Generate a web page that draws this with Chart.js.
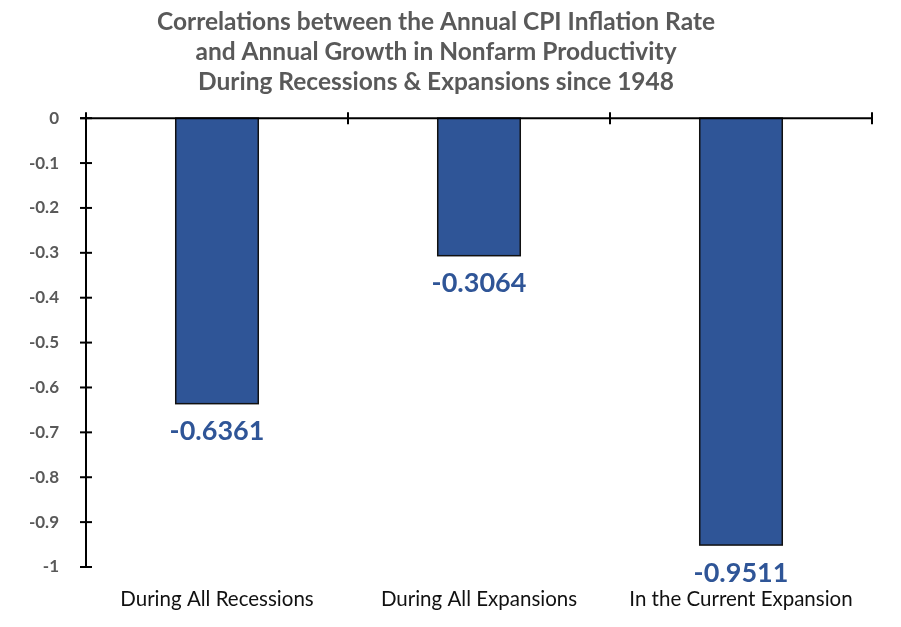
<!DOCTYPE html>
<html>
<head>
<meta charset="utf-8">
<script src="https://cdn.jsdelivr.net/npm/chart.js@4"></script>
<style>
html,body{margin:0;padding:0;background:#fff;}
#wrap{width:901px;height:627px;position:relative;}
</style>
</head>
<body>
<div id="wrap"><canvas id="c" width="901" height="627"></canvas></div>
<script>
const categories = ['During All Recessions', 'During All Expansions', 'In the Current Expansion'];
const correlations = [-0.6361, -0.3064, -0.9511];
const valueLabels = ['-0.6361', '-0.3064', '-0.9511'];
const titleLines = ['Correlations between the Annual CPI Inflation Rate', 'and Annual Growth in Nonfarm Productivity', 'During Recessions & Expansions since 1948'];
const yMin = -1, yMax = 0, yStep = 0.1;

const FONT = 'Lato, "Open Sans", sans-serif';
const BLUE = '#2F5597';

const axesPlugin = {
  id: 'axesPlugin',
  afterDatasetsDraw(chart) {
    const ctx = chart.ctx;
    const x = chart.scales.x, y = chart.scales.y;
    const area = chart.chartArea;
    const y0 = y.getPixelForValue(0);
    ctx.save();
    // bar outlines
    const meta = chart.getDatasetMeta(0);
    ctx.strokeStyle = '#111';
    ctx.lineWidth = 1.5;
    meta.data.forEach(bar => {
      const w = bar.width;
      ctx.strokeRect(bar.x - w / 2, bar.base, w, bar.y - bar.base);
    });
    ctx.strokeStyle = '#000';
    ctx.lineWidth = 2;
    // y axis line
    ctx.beginPath();
    ctx.moveTo(area.left, y.getPixelForValue(yMax));
    ctx.lineTo(area.left, y.getPixelForValue(yMin));
    ctx.stroke();
    // y ticks crossing
    y.ticks.forEach(t => {
      const py = y.getPixelForValue(t.value);
      ctx.beginPath();
      ctx.moveTo(area.left - 6, py);
      ctx.lineTo(area.left + 6, py);
      ctx.stroke();
    });
    // x axis line at zero
    ctx.beginPath();
    ctx.moveTo(area.left - 6, y0);
    ctx.lineTo(area.right, y0);
    ctx.stroke();
    // category boundary ticks
    const n = categories.length;
    for (let i = 0; i <= n; i++) {
      const px = x.getPixelForDecimal(i / n);
      ctx.beginPath();
      ctx.moveTo(px, y0 - 6);
      ctx.lineTo(px, y0 + 6);
      ctx.stroke();
    }
    // value labels
    ctx.fillStyle = BLUE;
    ctx.font = 'bold 27px ' + FONT;
    ctx.textAlign = 'center';
    ctx.textBaseline = 'middle';
    meta.data.forEach((bar, i) => {
      ctx.fillText(valueLabels[i], bar.x, bar.y + 28);
    });
    ctx.restore();
  }
};

new Chart(document.getElementById('c'), {
  type: 'bar',
  data: {
    labels: categories,
    datasets: [{
      data: correlations,
      backgroundColor: BLUE,
      borderWidth: 0,
      barPercentage: 0.315,
      categoryPercentage: 1.0
    }]
  },
  options: {
    responsive: false,
    animation: false,
    devicePixelRatio: 1,
    layout: { padding: { left: 0, right: 29, top: 0, bottom: 0 } },
    plugins: {
      legend: { display: false },
      tooltip: { enabled: false },
      title: {
        display: true,
        text: titleLines,
        color: '#595959',
        font: { family: FONT, size: 24.5, weight: 'bold', lineHeight: 1.22 },
        padding: { top: 7, bottom: 21.5 }
      }
    },
    scales: {
      x: {
        grid: { display: false },
        border: { display: false },
        ticks: { color: '#111', font: { family: FONT, size: 20.5 }, padding: 12, maxRotation: 0 },
        afterFit(s) { s.height = 60; }
      },
      y: {
        min: yMin, max: yMax,
        grid: { display: false },
        border: { display: false },
        ticks: {
          stepSize: yStep,
          color: '#595959',
          font: { family: FONT, size: 17, weight: 'bold' },
          padding: 19,
          callback: v => String(Math.round(v * 10) / 10)
        },
        afterFit(s) { s.width = 86; }
      }
    }
  },
  plugins: [axesPlugin]
});
</script>
</body>
</html>
